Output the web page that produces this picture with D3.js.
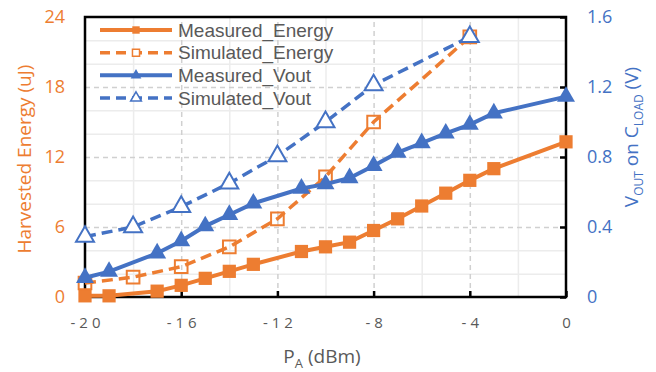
<!DOCTYPE html>
<html>
<head>
<meta charset="utf-8">
<script src="https://cdn.jsdelivr.net/npm/d3@7"></script>
<style>
body { margin: 0; background: #fff; }
text { font-family: "Open Sans", Lato, sans-serif; }
</style>
</head>
<body>
<div id="chart"></div>
<script>
// measured points share one set of x values, simulated another
const xMeasured = [-20, -19, -17, -16, -15, -14, -13, -11, -10, -9, -8, -7, -6, -5, -4, -3, 0]
const measuredEnergy = [0.1, 0.1, 0.5, 1.0, 1.6, 2.2, 2.8, 3.9, 4.3, 4.7, 5.7, 6.7, 7.8, 8.9, 10.0, 11.0, 13.3]
const measuredVout = [0.11, 0.145, 0.25, 0.32, 0.405, 0.47, 0.535, 0.62, 0.645, 0.68, 0.75, 0.825, 0.88, 0.935, 0.985, 1.05, 1.145]

const xSimulated = [-20, -18, -16, -14, -12, -10, -8, -4]
const simulatedEnergy = [1.2, 1.7, 2.6, 4.3, 6.7, 10.3, 15.0, 22.3]
const simulatedVout = [0.345, 0.4, 0.516, 0.65, 0.806, 1.0, 1.211, 1.487]

const xTicks = [-20, -16, -12, -8, -4, 0]
const leftTicks = [0, 6, 12, 18, 24]
const rightTicks = [0, 0.4, 0.8, 1.2, 1.6]
const legendNames = ["Measured_Energy", "Simulated_Energy", "Measured_Vout", "Simulated_Vout"]

const orange = "#ED7D31"
const blue = "#4472C4"
const grey = "#595959"

let margin = {top: 17, right: 90, bottom: 75, left: 85}
let width = 656 - margin.left - margin.right
let height = 372 - margin.top - margin.bottom

let svg = d3.select("#chart")
    .append("svg")
    .attr("width", 656)
    .attr("height", 372)
    .append("g")
    .attr("transform", "translate(" + margin.left + "," + margin.top + ")");

let x = d3.scaleLinear().domain([-20, 0]).range([0, width])
let yLeft = d3.scaleLinear().domain([0, 24]).range([height, 0])
let yRight = d3.scaleLinear().domain([0, 1.6]).range([height, 0])

// minor grid (solid, light)
let minorX = d3.range(-18, 0, 2).filter(v => v % 4 != 0)
let minorY = d3.range(2, 24, 2).filter(v => v % 6 != 0)

svg.append("g")
    .attr("class", "grid minor")
    .attr("transform", "translate(0," + height + ")")
    .call(d3.axisBottom(x).tickValues(minorX).tickSize(-height).tickFormat(""))
svg.append("g")
    .attr("class", "grid minor")
    .call(d3.axisLeft(yLeft).tickValues(minorY).tickSize(-width).tickFormat(""))

// major grid (dashed)
svg.append("g")
    .attr("class", "grid major")
    .attr("transform", "translate(0," + height + ")")
    .call(d3.axisBottom(x).tickValues([-16, -12, -8, -4]).tickSize(-height).tickFormat(""))
svg.append("g")
    .attr("class", "grid major")
    .call(d3.axisLeft(yLeft).tickValues([6, 12, 18]).tickSize(-width).tickFormat(""))

svg.selectAll(".grid .domain").remove()
svg.selectAll(".grid.minor line").attr("stroke", "#ECECEC").attr("stroke-width", 1.5)
svg.selectAll(".grid.major line").attr("stroke", "#D0D0D0").attr("stroke-width", 1.5)
    .attr("stroke-dasharray", "5,4")

// axes with labels
let xAxis = svg.append("g")
    .attr("transform", "translate(0," + height + ")")
    .call(d3.axisBottom(x).tickValues(xTicks).tickSizeInner(-6).tickSizeOuter(0).tickPadding(20))
xAxis.selectAll("line").attr("stroke", "#000").attr("stroke-width", 2.5)
xAxis.selectAll("text")
    .text(d => d < 0 ? "-" + Math.abs(d) : d)
    .attr("dx", 2)
    .attr("fill", grey)
    .style("font-size", "15px")
    .style("letter-spacing", "4px")

let leftAxis = svg.append("g")
    .call(d3.axisLeft(yLeft).tickValues(leftTicks).tickSize(0).tickPadding(20))
leftAxis.selectAll("text").attr("fill", orange).style("font-size", "18px")

let rightAxis = svg.append("g")
    .attr("transform", "translate(" + width + ",0)")
    .call(d3.axisRight(yRight).tickValues(rightTicks).tickSizeInner(-6).tickSizeOuter(0).tickPadding(21)
        .tickFormat(d => d == 0 ? "0" : d3.format(".1f")(d)))
rightAxis.selectAll("line").attr("stroke", "#000").attr("stroke-width", 2.5)
rightAxis.selectAll("text").attr("fill", blue).style("font-size", "18px")

svg.selectAll(".domain").remove()

// plot frame
svg.append("rect")
    .attr("width", width)
    .attr("height", height)
    .attr("fill", "none")
    .attr("stroke", "#000")
    .attr("stroke-width", 2.5)

function zip(xs, ys) {
    return xs.map((v, i) => [v, ys[i]])
}

let lineLeft = d3.line().x(d => x(d[0])).y(d => yLeft(d[1]))
let lineRight = d3.line().x(d => x(d[0])).y(d => yRight(d[1]))

let square = d3.symbol(d3.symbolSquare, 175)
let hollowSquare = d3.symbol(d3.symbolSquare, 160)
let triangle = d3.symbol(d3.symbolTriangle, 140)

function drawSeries(data, lineGen, color, dashed, markerPath, filled, yScale) {
    svg.append("path")
        .attr("d", lineGen(data))
        .attr("fill", "none")
        .attr("stroke", color)
        .attr("stroke-width", dashed ? 3.5 : 4)
        .attr("stroke-dasharray", dashed ? "11,6" : null)

    svg.append("g")
        .selectAll("path")
        .data(data)
        .join("path")
        .attr("d", markerPath)
        .attr("transform", d => "translate(" + x(d[0]) + "," + yScale(d[1]) + ")")
        .attr("fill", filled ? color : (markerPath == triangle ? "#fff" : "none"))
        .attr("stroke", color)
        .attr("stroke-width", filled ? 0 : 2)
}

drawSeries(zip(xMeasured, measuredEnergy), lineLeft, orange, false, square, true, yLeft)
drawSeries(zip(xSimulated, simulatedEnergy), lineLeft, orange, true, hollowSquare, false, yLeft)
drawSeries(zip(xMeasured, measuredVout), lineRight, blue, false, triangle, true, yRight)
drawSeries(zip(xSimulated, simulatedVout), lineRight, blue, true, triangle, false, yRight)

// legend
let legendStyle = [
    {color: orange, dashed: false, marker: d3.symbol(d3.symbolSquare, 55), filled: true},
    {color: orange, dashed: true, marker: d3.symbol(d3.symbolSquare, 50), filled: false},
    {color: blue, dashed: false, marker: d3.symbol(d3.symbolTriangle, 50), filled: true},
    {color: blue, dashed: true, marker: d3.symbol(d3.symbolTriangle, 50), filled: false}
]
let legendRows = [13, 35.7, 58.3, 81]

legendNames.forEach((name, i) => {
    let s = legendStyle[i]
    let row = svg.append("g").attr("transform", "translate(15," + legendRows[i] + ")")
    row.append("line")
        .attr("x1", 0).attr("x2", 72)
        .attr("stroke", s.color)
        .attr("stroke-width", s.dashed ? 3.5 : 4)
        .attr("stroke-dasharray", s.dashed ? "10,6" : null)
    row.append("path")
        .attr("d", s.marker)
        .attr("transform", "translate(36,0)")
        .attr("fill", s.filled ? s.color : "#fff")
        .attr("stroke", s.color)
        .attr("stroke-width", s.filled ? 0 : 1.5)
    row.append("text")
        .attr("x", 78)
        .attr("dy", "0.35em")
        .attr("fill", grey)
        .style("font-family", "'Liberation Sans', Arial, sans-serif")
        .style("font-size", "19px")
        .text(name)
})

// axis titles
svg.append("text")
    .attr("x", 322 - margin.left)
    .attr("y", 363 - margin.top)
    .attr("text-anchor", "middle")
    .attr("fill", grey)
    .style("font-size", "19px")
    .html('P<tspan dy="5" font-size="13px">A</tspan><tspan dy="-5"> (dBm)</tspan>')

svg.append("text")
    .attr("transform", "translate(" + (31 - margin.left) + "," + (159 - margin.top) + ") rotate(-90)")
    .attr("text-anchor", "middle")
    .attr("fill", orange)
    .style("font-size", "19px")
    .text("Harvested Energy (uJ)")

svg.append("text")
    .attr("transform", "translate(" + (638 - margin.left) + "," + (137 - margin.top) + ") rotate(-90)")
    .attr("text-anchor", "middle")
    .attr("fill", blue)
    .style("font-size", "19px")
    .html('V<tspan dy="5" font-size="12px">OUT</tspan><tspan dy="-5"> on C</tspan><tspan dy="5" font-size="12px">LOAD</tspan><tspan dy="-5"> (V)</tspan>')
</script>
</body>
</html>
